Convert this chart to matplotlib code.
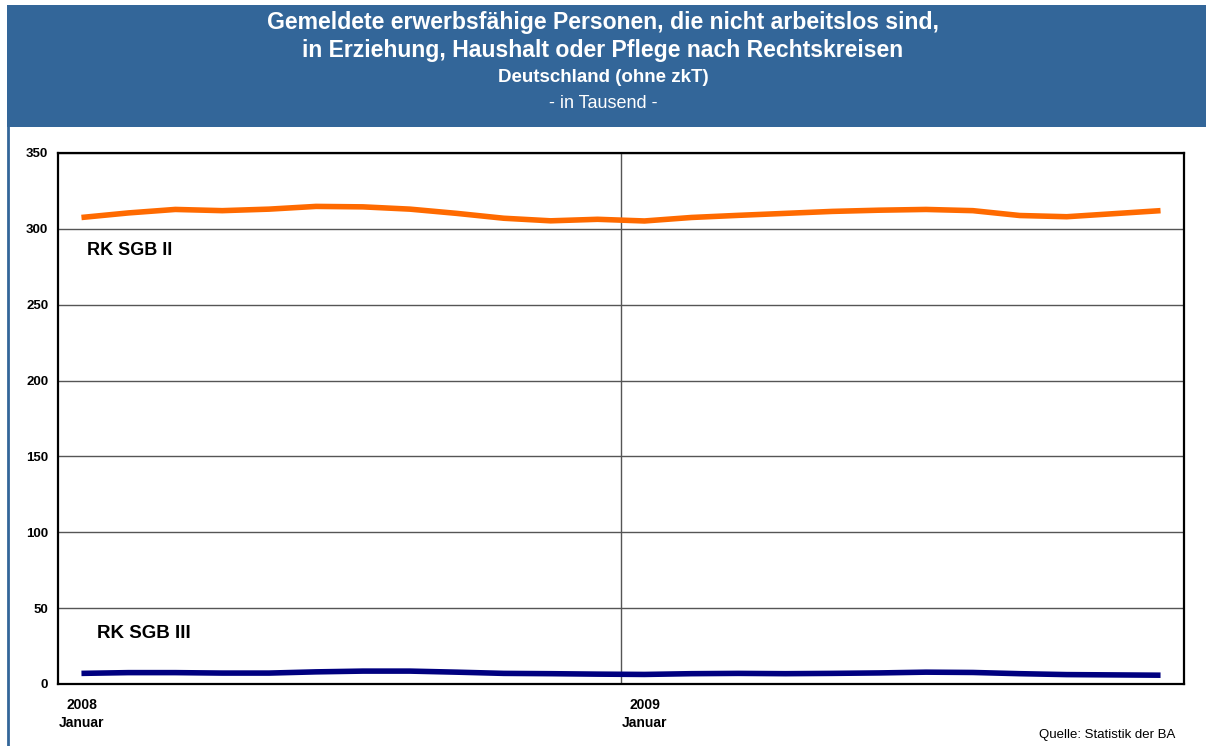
import matplotlib
matplotlib.use("Agg")
import matplotlib.pyplot as plt
from matplotlib.patches import Rectangle
from matplotlib.lines import Line2D

plt.rcParams['font.family'] = ['Liberation Sans', 'DejaVu Sans']

months = list(range(24))  # Jan 2008 .. Dec 2009
sgb2 = [307.5, 310.5, 312.8, 312.0, 313.0, 314.8, 314.5, 313.0, 310.2, 307.0, 305.3, 306.3,
        305.2, 307.5, 308.9, 310.2, 311.5, 312.3, 312.8, 312.0, 308.8, 308.0, 310.0, 312.0]
sgb3 = [7.0, 7.5, 7.5, 7.2, 7.2, 8.0, 8.5, 8.5, 7.8, 7.0, 6.8, 6.5,
        6.3, 6.8, 7.0, 6.8, 7.0, 7.3, 7.8, 7.6, 6.8, 6.2, 6.0, 5.8]
yticks = [0, 50, 100, 150, 200, 250, 300, 350]
xtick_pos = [0, 12]
xtick_years = ["2008", "2009"]
xtick_months = ["Januar", "Januar"]
series_names = ["RK SGB II", "RK SGB III"]

W, H = 1206, 746
fig = plt.figure(figsize=(W / 100, H / 100), dpi=100)
blue = "#336699"

# header band
fig.patches.append(Rectangle((7 / W, 1 - 127 / H), 1 - 7 / W, 122 / H,
                             transform=fig.transFigure, facecolor=blue,
                             edgecolor="none", zorder=0))
# left border line
fig.lines.append(Line2D([8 / W, 8 / W], [0, 1 - 127 / H], transform=fig.transFigure,
                        color=blue, lw=2))

fig.text(0.5, 1 - 22 / H, "Gemeldete erwerbsfähige Personen, die nicht arbeitslos sind,",
         ha="center", va="center", color="white", fontsize=16.6, fontweight="bold")
fig.text(0.5, 1 - 50 / H, "in Erziehung, Haushalt oder Pflege nach Rechtskreisen",
         ha="center", va="center", color="white", fontsize=16.6, fontweight="bold")
fig.text(0.5, 1 - 78 / H, "Deutschland (ohne zkT)",
         ha="center", va="center", color="white", fontsize=13.5, fontweight="bold")
fig.text(0.5, 1 - 103 / H, "- in Tausend -",
         ha="center", va="center", color="white", fontsize=13)

left, right, top, bottom = 58, 1184, 153, 684
ax = fig.add_axes([left / W, 1 - bottom / H, (right - left) / W, (bottom - top) / H])
ax.set_xlim(-0.5, 23.5)
ax.set_ylim(0, 350)

ax.plot(months, sgb2, color="#FF6A00", lw=4, solid_capstyle="butt", zorder=3)
ax.plot(months, sgb3, color="#000080", lw=4, solid_capstyle="butt", zorder=3)

ax.set_yticks(yticks)
ax.set_yticklabels([str(v) for v in yticks], fontsize=9.5, fontweight="bold")
ax.yaxis.grid(True, color="#555555", lw=1)
ax.axvline(11.5, color="#555555", lw=1)
ax.set_xticks(xtick_pos)
ax.set_xticklabels([])
ax.tick_params(axis="both", length=0, pad=7)
for xp, yr, mo in zip(xtick_pos, xtick_years, xtick_months):
    ax.annotate(yr, (xp, 0), xytext=(0, -21), textcoords="offset pixels",
                ha="center", va="center", fontsize=10, fontweight="bold")
    ax.annotate(mo, (xp, 0), xytext=(0, -39), textcoords="offset pixels",
                ha="center", va="center", fontsize=10, fontweight="bold")
for s in ax.spines.values():
    s.set_linewidth(1.6)
    s.set_color("black")
ax.set_axisbelow(True)

ax.text(0.12, 286, series_names[0], fontsize=13, fontweight="bold", va="center", ha="left")
ax.text(0.33, 33, series_names[1], fontsize=13.5, fontweight="bold", va="center", ha="left")

fig.text(1175 / W, 1 - 735 / H, "Quelle: Statistik der BA", ha="right", va="center", fontsize=9.5)

fig.savefig("out.png", dpi=100)
